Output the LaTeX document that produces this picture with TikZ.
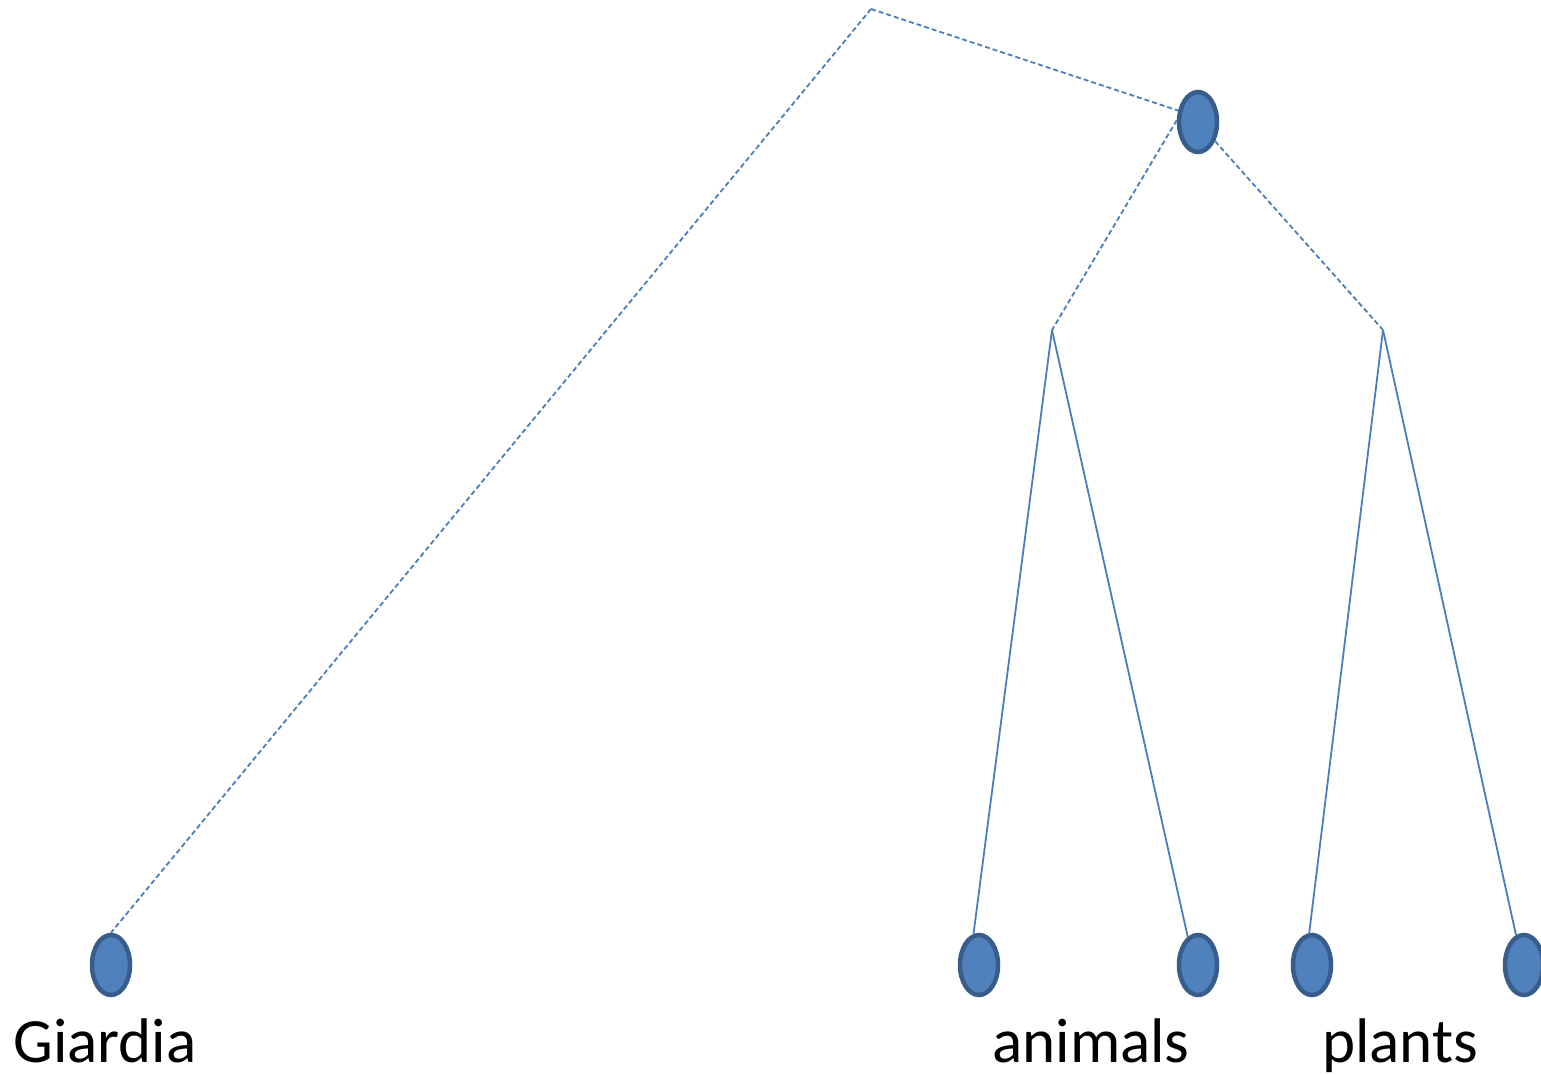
\documentclass[tikz,border=0pt]{standalone}
\usepackage{fontspec}
\setmainfont{Carlito}
\usetikzlibrary{shapes.geometric}
\definecolor{leaffill}{HTML}{4F81BD}
\definecolor{leafedge}{HTML}{385D8A}
\definecolor{branch}{HTML}{4A7EBB}
\begin{document}
\begin{tikzpicture}[x=1pt,y=-1pt,
  taxon/.style={ellipse, draw=leafedge, fill=leaffill, line width=4.5pt,
    minimum width=38pt, minimum height=60pt, inner sep=0pt},
  branchline/.style={draw=branch, line width=1.8pt},
  dashbranch/.style={branchline, dash pattern=on 5pt off 3pt},
  label/.style={anchor=base, font=\fontsize{63}{75}\selectfont}]
\useasboundingbox (0,0) rectangle (1541,1075);

% tree joints
\coordinate (root) at (871,9);
\coordinate (jA) at (1052,330);
\coordinate (jP) at (1383,330);

% taxa
\node[taxon] (mid) at (1198,122) {};
\node[taxon] (giardia) at (111,965) {};
\node[taxon] (a1) at (979,965) {};
\node[taxon] (a2) at (1198,965) {};
\node[taxon] (p1) at (1312,965) {};
\node[taxon] (p2) at (1524,965) {};

% dashed deep branches
\draw[dashbranch] (root) -- (giardia.north);
\draw[dashbranch] (root) -- (mid.150);
\draw[dashbranch] (mid.175) -- (jA);
\draw[dashbranch] (mid) -- (jP);

% solid terminal branches
\draw[branchline] (jA) -- (a1.100);
\draw[branchline] (jA) -- (a2.110);
\draw[branchline] (jP) -- (p1.95);
\draw[branchline] (jP) -- (p2.105);

% names
\node[label] (tG) at (105,1062) {Giardia};
\node[label] (tA) at (1091,1062) {animals};
\node[label] (tP) at (1400,1062) {plants};
\end{tikzpicture}
\end{document}
